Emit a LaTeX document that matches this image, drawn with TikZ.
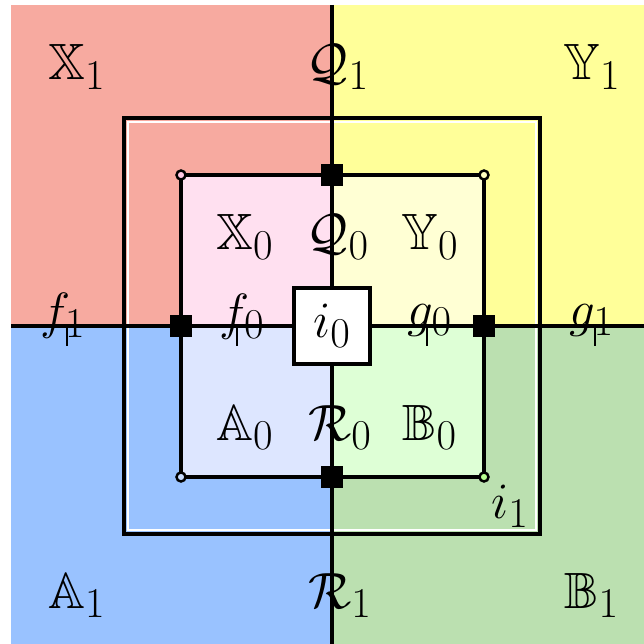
\documentclass[tikz,border=0pt]{standalone}
\usepackage{amssymb}
\definecolor{qred}{HTML}{F7AAA0}
\definecolor{qyel}{HTML}{FFFF99}
\definecolor{qblu}{HTML}{99C2FF}
\definecolor{qgrn}{HTML}{BBE0B0}
\definecolor{lred}{HTML}{FFE0F0}
\definecolor{lyel}{HTML}{FFFFD4}
\definecolor{lblu}{HTML}{DDE6FF}
\definecolor{lgrn}{HTML}{DEFFD6}
\definecolor{cred}{HTML}{FFC8E4}
\definecolor{cyel}{HTML}{FFFFC0}
\definecolor{cgrn}{HTML}{B8FF90}
\definecolor{cblu}{HTML}{C8DCFF}
\tikzset{
  lab/.style={anchor=base,inner sep=0pt,font=\fontsize{24.88}{30}\selectfont},
  mainline/.style={line width=1.6pt},
  tickline/.style={line width=1.4pt},
  sqmark/.style={fill=black,minimum size=10.7pt,inner sep=0pt},
  cmark/.style={circle,draw=black,line width=1.2pt,minimum size=4.4pt,inner sep=0pt},
}
\begin{document}
\begin{tikzpicture}[x=0.488pt,y=-0.488pt]
\useasboundingbox (0,0) rectangle (644,644);
% quadrants
\fill[qred] (11,5) rectangle (332,326);
\fill[qyel] (332,5) rectangle (644,326);
\fill[qblu] (11,326) rectangle (332,644);
\fill[qgrn] (332,326) rectangle (644,644);
% outer frame i_1
\draw[black,line width=1.5pt] (124,118) rectangle (540,534);
\draw[white,line width=1pt] (128,122) rectangle (536,530);
% inner light quadrants
\fill[lred] (181,175) rectangle (332,326);
\fill[lyel] (332,175) rectangle (484,326);
\fill[lblu] (181,326) rectangle (332,477);
\fill[lgrn] (332,326) rectangle (484,477);
% main axes
\coordinate (top) at (332,5);
\coordinate (bot) at (332,644);
\coordinate (lft) at (11,326);
\coordinate (rgt) at (644,326);
\draw[mainline] (top) -- (bot);
\draw[mainline] (lft) -- (rgt);
% inner square
\coordinate (c1) at (181,175);
\coordinate (c2) at (484,175);
\coordinate (c3) at (484,477);
\coordinate (c4) at (181,477);
\draw[mainline] (c1) -- (c2) -- (c3) -- (c4) -- cycle;
% ticks
\foreach \n/\xx in {t1/67,t2/237,t3/427,t4/595}{
  \coordinate (\n a) at (\xx,326);
  \coordinate (\n b) at (\xx,346);
  \draw[tickline] (\n a) -- (\n b);
}
% corner circles
\node[cmark,fill=cred] (k1) at (c1) {};
\node[cmark,fill=cyel] (k2) at (c2) {};
\node[cmark,fill=cgrn] (k3) at (c3) {};
\node[cmark,fill=cblu] (k4) at (c4) {};
% square marks
\node[sqmark] (m1) at (332,175) {};
\node[sqmark] (m2) at (181,326) {};
\node[sqmark] (m3) at (484,326) {};
\node[sqmark] (m4) at (332,477) {};
% center box
\node[draw=black,fill=white,line width=1.6pt,minimum size=37pt,inner sep=0pt,font=\fontsize{24.88}{30}\selectfont] (i0) at (332,326) {$i_0$};
% outer labels
\node[lab] (X1) at (77,80) {$\mathbb{X}_1$};
\node[lab] (Q1) at (338,80) {$\mathcal{Q}_1$};
\node[lab] (Y1) at (592,80) {$\mathbb{Y}_1$};
\node[lab] (f1) at (63,328) {$f_1$};
\node[lab] (g1) at (592,326) {$g_1$};
\node[lab] (A1) at (77,608) {$\mathbb{A}_1$};
\node[lab] (R1) at (340,608) {$\mathcal{R}_1$};
\node[lab] (B1) at (592,608) {$\mathbb{B}_1$};
% inner labels
\node[lab] (X0) at (245,250) {$\mathbb{X}_0$};
\node[lab] (Q0) at (338,250) {$\mathcal{Q}_0$};
\node[lab] (Y0) at (430,250) {$\mathbb{Y}_0$};
\node[lab] (f0) at (242,329) {$f_0$};
\node[lab] (g0) at (430,326) {$g_0$};
\node[lab] (A0) at (245,440) {$\mathbb{A}_0$};
\node[lab] (R0) at (340,440) {$\mathcal{R}_0$};
\node[lab] (B0) at (430,440) {$\mathbb{B}_0$};
\node[lab] (i1) at (510,518) {$i_1$};
\end{tikzpicture}
\end{document}
